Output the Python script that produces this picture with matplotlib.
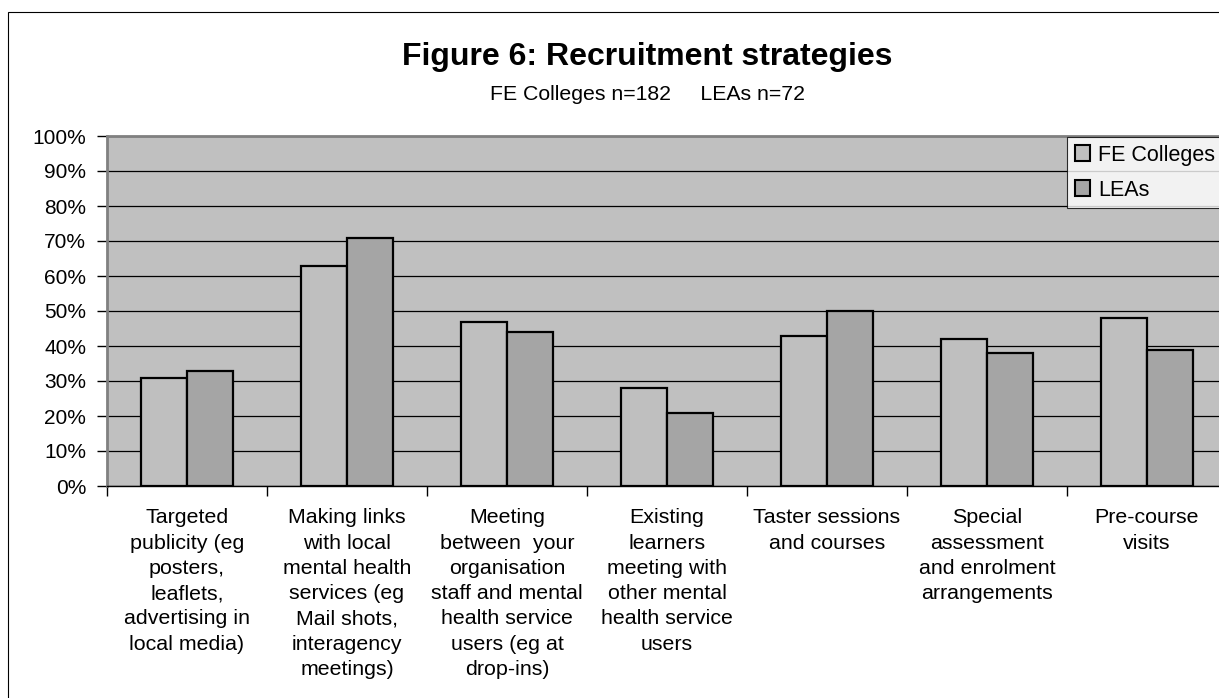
import matplotlib
matplotlib.use("Agg")
import matplotlib.pyplot as plt
import numpy as np
from matplotlib.patches import Rectangle
from matplotlib.ticker import FixedLocator, PercentFormatter

plt.rcParams['font.family'] = ['Liberation Sans', 'DejaVu Sans']

categories = [
    "Targeted\npublicity (eg\nposters,\nleaflets,\nadvertising in\nlocal media)",
    "Making links\nwith local\nmental health\nservices (eg\nMail shots,\ninteragency\nmeetings)",
    "Meeting\nbetween  your\norganisation\nstaff and mental\nhealth service\nusers (eg at\ndrop-ins)",
    "Existing\nlearners\nmeeting with\nother mental\nhealth service\nusers",
    "Taster sessions\nand courses",
    "Special\nassessment\nand enrolment\narrangements",
    "Pre-course\nvisits",
]
fe_colleges = [31, 63, 47, 28, 43, 42, 48]
leas = [33, 71, 44, 21, 50, 38, 39]
series_names = ["FE Colleges", "LEAs"]
y_ticks = list(range(0, 101, 10))

W, H = 1219, 698
fig = plt.figure(figsize=(W / 100, H / 100), dpi=100)

# outer chart border
fig.patches.append(Rectangle((8 / W, 1 - 12 / H - 1.2), 1.2, 1.2,
                             transform=fig.transFigure, fill=False,
                             edgecolor='black', linewidth=0.8))

ax = fig.add_axes([107 / W, 1 - 486 / H, 1120 / W, 350 / H])
ax.set_facecolor('#C0C0C0')

x = np.arange(len(categories))
w = 1 / 3.5
ax.bar(x - w / 2, fe_colleges, width=w, color='#BFBFBF', edgecolor='black',
       linewidth=1.6, label=series_names[0], zorder=3)
ax.bar(x + w / 2, leas, width=w, color='#A5A5A5', edgecolor='black',
       linewidth=1.6, label=series_names[1], zorder=3)

ax.set_xlim(-0.5, len(categories) - 0.5)
ax.set_ylim(0, 100)

ax.set_yticks(y_ticks)
ax.yaxis.set_major_formatter(PercentFormatter(decimals=0))
ax.grid(axis='y', color='black', linewidth=0.9, zorder=1)
ax.set_axisbelow(True)

# category boundaries as major ticks, labels at the group centres
ax.xaxis.set_major_locator(FixedLocator(np.arange(-0.5, len(categories), 1)))
ax.xaxis.set_minor_locator(FixedLocator(x))
ax.set_xticklabels([])
ax.set_xticklabels(categories, minor=True, fontsize=15.4, linespacing=1.42,
                   va='top', ha='center')
ax.tick_params(axis='x', which='major', length=7, width=1, color='black',
               direction='out')
ax.tick_params(axis='x', which='minor', length=0, pad=16)
ax.tick_params(axis='y', which='major', length=7, width=1, color='black',
               direction='out', labelsize=15, pad=8)

for side in ('top', 'right'):
    ax.spines[side].set_color('#808080')
    ax.spines[side].set_linewidth(2)
ax.spines['left'].set_color('#808080')
ax.spines['left'].set_linewidth(2)
ax.spines['bottom'].set_color('black')
ax.spines['bottom'].set_linewidth(1)

leg = fig.legend(loc='upper left', bbox_to_anchor=(1067 / W, 1 - 137 / H),
                 frameon=True, fancybox=False, shadow=False, fontsize=15.5,
                 handlelength=0.7, handleheight=0.7, handletextpad=0.4,
                 borderpad=0.35, labelspacing=0.65, borderaxespad=0)
leg.get_frame().set_edgecolor('black')
leg.get_frame().set_linewidth(0.8)
for h in leg.legend_handles:
    h.set_linewidth(1.5)

fig.text(647 / W, 1 - 65 / H, "Figure 6: Recruitment strategies",
         ha='center', va='baseline', fontsize=23, fontweight='bold')
fig.text(647 / W, 1 - 100 / H, "FE Colleges n=182     LEAs n=72",
         ha='center', va='baseline', fontsize=15.3)

fig.savefig("out.png", dpi=100)
